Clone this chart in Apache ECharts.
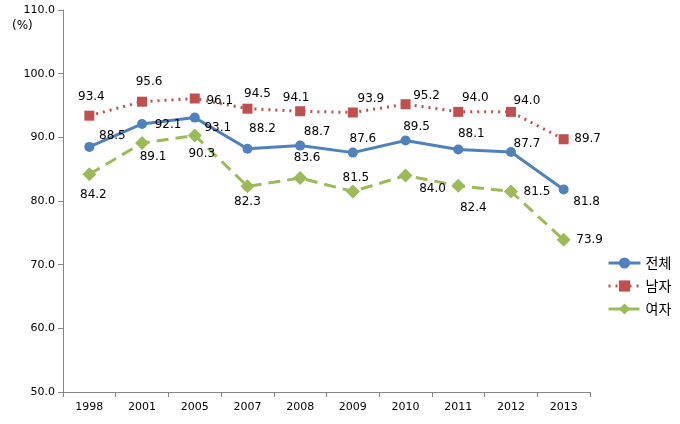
<!DOCTYPE html>
<html><head><meta charset="utf-8">
<script src="https://cdn.jsdelivr.net/npm/echarts@6/dist/echarts.min.js"></script>
<style>html,body{margin:0;padding:0;background:#fff}#c{width:680px;height:424px}</style>
</head><body><div id="c"></div>
<script>
const years = ['1998','2001','2005','2007','2008','2009','2010','2011','2012','2013'];
const total = [88.5, 92.1, 93.1, 88.2, 88.7, 87.6, 89.5, 88.1, 87.7, 81.8];
const male = [93.4, 95.6, 96.1, 94.5, 94.1, 93.9, 95.2, 94.0, 94.0, 89.7];
const female = [84.2, 89.1, 90.3, 82.3, 83.6, 81.5, 84.0, 82.4, 81.5, 73.9];
const names = ['전체', '남자', '여자'];

// label offsets (styling, not data)
const offTotal = [[23,-11],[26,1],[23,10],[15,-20],[17,-14],[10,-14],[11,-14],[13,-16],[16,-8],[23,12]];
const offMale = [[2,-19],[7,-20],[25,2],[10,-15],[-4,-13],[18,-14],[21,-8],[17,-14],[16,-11],[24,0]];
const offFemale = [[4,21],[11,14],[7,18],[0,16],[7,-20],[3,-14],[27,13],[15,22],[26,0],[26,0]];

function build(vals, offs) {
  return vals.map((v, i) => ({
    value: v,
    label: { show: true, position: 'inside', offset: offs[i], formatter: p => p.value.toFixed(1) }
  }));
}
const labelStyle = { color: '#000', fontFamily: 'DejaVu Sans', fontSize: 12, align: 'center', verticalAlign: 'middle' };

const chart = echarts.init(document.getElementById('c'), null, { renderer: 'canvas' });
chart.setOption({
  animation: false,
  grid: { left: 63, right: 90, top: 10, bottom: 32 },
  xAxis: {
    type: 'category', data: years, boundaryGap: true,
    axisLine: { lineStyle: { color: '#868686' } },
    axisTick: { show: true, length: 5, lineStyle: { color: '#868686' } },
    axisLabel: { color: '#000', fontFamily: 'DejaVu Sans', fontSize: 11, margin: 10 }
  },
  yAxis: {
    type: 'value', min: 50, max: 110, interval: 10,
    axisLine: { show: true, lineStyle: { color: '#868686' } },
    axisTick: { show: true, length: 5, lineStyle: { color: '#868686' } },
    splitLine: { show: false },
    axisLabel: { color: '#000', fontFamily: 'DejaVu Sans', fontSize: 11, margin: 8, formatter: v => v.toFixed(1) }
  },
  legend: {
    orient: 'vertical', left: 602, top: 251, itemWidth: 32, itemHeight: 14, itemGap: 9,
    lineStyle: { width: 3 },
    textStyle: { fontFamily: 'Noto Sans CJK KR', fontSize: 14, color: '#000' },
    data: names
  },
  graphic: [{ type: 'text', left: 12, top: 20, style: { text: '(%)', fontFamily: 'DejaVu Sans', fontSize: 12, fill: '#000' } }],
  series: [
    { name: names[0], type: 'line', data: build(total, offTotal), symbol: 'circle', symbolSize: 10,
      lineStyle: { color: '#4F81BD', width: 3 }, itemStyle: { color: '#4F81BD' }, label: labelStyle, z: 3 },
    { name: names[1], type: 'line', data: build(male, offMale), symbol: 'rect', symbolSize: 10,
      lineStyle: { color: '#C0504D', width: 3, type: [2, 5] }, itemStyle: { color: '#C0504D' }, label: labelStyle, z: 2 },
    { name: names[2], type: 'line', data: build(female, offFemale), symbol: 'diamond', symbolSize: 14,
      lineStyle: { color: '#9BBB59', width: 3, type: [12, 7] }, itemStyle: { color: '#9BBB59' }, label: labelStyle, z: 2 }
  ]
});
</script></body></html>
